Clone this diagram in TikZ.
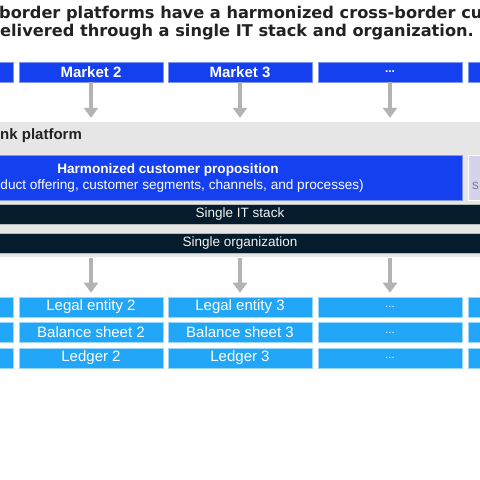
\documentclass[tikz,border=0pt]{standalone}
\usepackage{fontspec}
\setmainfont{Liberation Sans}
\newfontfamily\titlefont{DejaVu Sans}
\usetikzlibrary{arrows.meta}
\definecolor{mblue}{HTML}{1440F0}
\definecolor{lblue}{HTML}{22A6F7}
\definecolor{navy}{HTML}{051C2C}
\definecolor{panelgray}{HTML}{E6E6E6}
\definecolor{lav}{HTML}{D3D3EE}
\definecolor{arrowgray}{HTML}{B3B3B3}
\definecolor{inkdark}{HTML}{222222}
\tikzset{
  marketbox/.style={rectangle, fill=mblue, draw=mblue!55!white, line width=0.6pt,
    minimum width=144pt, minimum height=20pt, inner sep=0pt, text=white,
    font=\fontsize{15}{18}\selectfont\bfseries},
  entitybox/.style={rectangle, fill=lblue, draw=lblue!45!white, line width=0.6pt,
    minimum width=144pt, minimum height=20pt, inner sep=0pt, text=white,
    font=\fontsize{15}{18}\selectfont},
  darkbar/.style={rectangle, fill=navy, draw=gray!55, line width=0.6pt,
    minimum width=520pt, minimum height=20pt, inner sep=0pt, text=white!90!gray,
    font=\fontsize{13.5}{16}\selectfont},
  flowarrow/.style={draw=arrowgray, line width=4.5pt,
    -{Triangle[width=14pt,length=10pt]}},
  titletext/.style={inner sep=0pt, anchor=base west, text=inkdark,
    font=\titlefont\bfseries\fontsize{16.2}{19}\selectfont},
  dots/.style={font=\fontsize{11.5}{13}\selectfont},
}
\begin{document}
\begin{tikzpicture}[x=1pt,y=-1pt]
\useasboundingbox (0,0) rectangle (480,480);
\clip (0,0) rectangle (480,480);
\fill[white] (0,0) rectangle (480,480);

% title
\node[titletext] (t1) at (-1,18) {border platforms have a harmonized cross-border cu};
\node[titletext] (t2) at (0,36) {elivered through a single IT stack and organization.};

% markets
\node[marketbox] (m1) at (-58.5,72) {};
\node[marketbox] (m2) at (91,72) {Market 2};
\node[marketbox] (m3) at (240,72) {Market 3};
\node[marketbox, font=\fontsize{12}{14}\selectfont\bfseries] (m4) at (390,72) {...};
\node[marketbox] (m5) at (540,72) {};

% platform panel
\node[rectangle, fill=panelgray, inner sep=0pt, minimum width=900pt, minimum height=135pt] (panel) at (240,189.5) {};
\node[inner sep=0pt, anchor=base west, text=inkdark, font=\fontsize{15}{18}\selectfont\bfseries] (plab) at (0,139) {nk platform};

\node[rectangle, fill=mblue, draw=mblue!55!white, line width=0.6pt, inner sep=0pt,
  minimum width=588pt, minimum height=45pt] (harm) at (168,177.5) {};
\node[inner sep=0pt, anchor=base, text=white, font=\fontsize{13.6}{16}\selectfont\bfseries] (h1) at (168,173) {Harmonized customer proposition};
\node[inner sep=0pt, anchor=base east, text=white, font=\fontsize{13.6}{16}\selectfont] (h2) at (364,189) {duct offering, customer segments, channels, and processes)};

\node[rectangle, fill=lav, draw=white, line width=0.6pt, inner sep=0pt,
  minimum width=200pt, minimum height=45pt] (lavbox) at (568,177.5) {};
\node[inner sep=0pt, anchor=base west, text=gray, font=\fontsize{13.6}{16}\selectfont] (lavs) at (472,189) {s};

\node[darkbar] (it) at (240,214.5) {Single IT stack};
\node[darkbar] (org) at (240,243) {Single organization};

% entity rows
\foreach \r/\yy in {le/307, bs/332.5, lg/358} {
  \node[entitybox] (\r1) at (-58.5,\yy) {};
  \node[entitybox] (\r5) at (540,\yy) {};
}
\node[entitybox] (le2) at (91,307) {Legal entity 2};
\node[entitybox] (le3) at (240,307) {Legal entity 3};
\node[entitybox, dots] (le4) at (390,307) {...};
\node[entitybox] (bs2) at (91,332.5) {Balance sheet 2};
\node[entitybox] (bs3) at (240,332.5) {Balance sheet 3};
\node[entitybox, dots] (bs4) at (390,332.5) {...};
\node[entitybox] (lg2) at (91,358) {Ledger 2};
\node[entitybox] (lg3) at (240,358) {Ledger 3};
\node[entitybox, dots] (lg4) at (390,358) {...};

% arrows
\foreach \c in {2,3,4} {
  \draw[flowarrow, shorten >=4pt] (m\c.south) -- (m\c.south |- panel.north);
  \draw[flowarrow, shorten <=1pt, shorten >=4pt] (le\c.north |- panel.south) -- (le\c.north);
}
\end{tikzpicture}
\end{document}
